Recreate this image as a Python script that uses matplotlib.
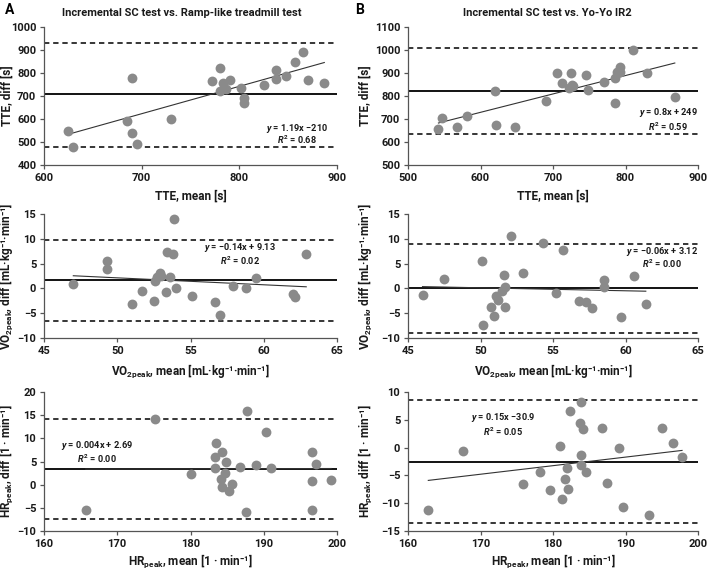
import numpy as np
import matplotlib
matplotlib.use("Agg")
import matplotlib.pyplot as plt

plt.rcParams['font.family'] = ['Roboto', 'DejaVu Sans']
plt.rcParams['font.weight'] = 'bold'
plt.rcParams['mathtext.fontset'] = 'custom'
plt.rcParams['mathtext.rm'] = 'Roboto:bold'
plt.rcParams['mathtext.it'] = 'Roboto:italic:bold'
plt.rcParams['mathtext.bf'] = 'Roboto:bold'

# ---- data ----
# A: SC vs ramp treadmill, TTE
tte_a_mean = [625, 630, 685, 690, 690, 695, 730, 772, 780, 780, 783, 786, 790,
              802, 805, 805, 825, 838, 838, 848, 857, 865, 870, 887]
tte_a_diff = [550, 480, 590, 540, 780, 490, 600, 765, 820, 720, 755, 730, 770,
              735, 690, 670, 750, 815, 775, 785, 848, 890, 770, 755]
# B: SC vs Yo-Yo IR2, TTE
tte_b_mean = [542, 547, 567, 582, 620, 622, 648, 690, 705, 712, 725, 722, 726,
              728, 745, 748, 770, 785, 785, 788, 792, 793, 810, 830, 868]
tte_b_diff = [655, 705, 665, 715, 820, 675, 665, 780, 900, 855, 900, 835, 850,
              845, 890, 825, 860, 770, 880, 905, 925, 905, 1000, 900, 795]
# C: VO2peak, SC vs ramp
vo_c_mean = [47.0, 49.3, 49.3, 51.0, 51.7, 52.5, 52.6, 52.7, 52.9, 53.0, 53.3,
             53.4, 53.6, 53.8, 53.9, 54.0, 55.1, 56.7, 57.0, 57.9, 58.8, 59.5,
             62.0, 62.1, 62.9]
vo_c_diff = [0.8, 5.5, 3.9, -3.1, -0.6, -2.5, 1.4, 2.2, 3.1, 2.5, -0.7,
             7.3, 2.3, 7.0, 13.9, 0.0, -1.5, -2.7, -5.4, 0.4, 0.0, 2.1,
             -1.2, -1.8, 6.9]
# D: VO2peak, SC vs Yo-Yo
vo_d_mean = [46.0, 47.5, 50.1, 50.2, 50.7, 50.9, 51.1, 51.2, 51.5, 51.6, 51.7,
             51.7, 52.1, 52.9, 54.3, 55.2, 55.7, 56.8, 57.3, 57.7, 58.5, 58.5,
             59.7, 60.6, 61.4]
vo_d_diff = [-1.3, 1.9, 5.5, -7.4, -3.7, -5.6, -1.6, -2.4, -0.6, 2.8, 0.3,
             -3.8, 10.5, 3.1, 9.1, -1.0, 7.8, -2.5, -2.8, -4.0, 1.7, 0.3,
             -5.8, 2.5, -3.1]
# E: HRpeak, SC vs ramp
hr_e_mean = [165.7, 175.2, 180.1, 183.3, 183.4, 183.5, 184.2, 184.3, 184.3,
             184.7, 184.9, 185.2, 185.7, 186.8, 187.6, 187.7, 188.9, 190.3,
             191.0, 196.6, 196.6, 196.6, 197.2, 199.2]
hr_e_diff = [-5.5, 14.2, 2.4, 3.6, 6.0, 9.0, 1.3, -0.4, 7.1,
             2.6, 4.8, -1.4, 0.2, 3.8, -6.0, 15.9, 4.3, 11.4,
             3.7, 7.1, 0.8, -5.4, 4.4, 1.0]
# F: HRpeak, SC vs Yo-Yo
hr_f_mean = [162.8, 167.6, 175.8, 178.2, 179.6, 180.9, 181.3, 181.7, 181.9,
             182.0, 182.3, 183.7, 183.8, 183.9, 183.9, 184.2, 184.6, 186.7,
             187.5, 189.1, 189.7, 193.3, 195.0, 196.5, 197.8]
hr_f_diff = [-11.3, -0.7, -6.5, -4.4, -7.6, 0.3, -9.3, -5.7, -3.6,
             -7.4, 6.5, 4.5, -1.3, -3.1, 8.2, 3.4, -4.4, 3.5,
             -6.3, 0.0, -10.6, -12.2, 3.6, 0.8, -1.7]

# bias and limits of agreement (mean, upper, lower)
bias = [(707, 930, 480), (822, 1007, 635), (1.6, 9.8, -6.5),
        (0.0, 9.0, -9.0), (3.3, 14.2, -7.5), (-2.6, 8.5, -13.6)]
# regression lines as drawn (slope, intercept)
trend = [(1.19, -210), (0.8, 249), (-0.14, 9.13),
         (-0.06, 3.12), (0.004, 2.69), (0.154, -30.97)]
eq_text = [r"$y$ = 1.19x −210", r"$y$ = 0.8x + 249", r"$y$ = −0.14x + 9.13",
           r"$y$ = −0.06x + 3.12", r"$y$ = 0.004x + 2.69", r"$y$ = 0.15x −30.9"]
r2_text = [r"$R^2$ = 0.68", r"$R^2$ = 0.59", r"$R^2$ = 0.02",
           r"$R^2$ = 0.00", r"$R^2$ = 0.00", r"$R^2$ = 0.05"]

vo_unit = "mL·kg⁻¹·min⁻¹"
hr_unit = "1 · min⁻¹"
xlabels = ["TTE, mean [s]", "TTE, mean [s]",
           r"VO$_{\mathrm{2peak}}$, mean [" + vo_unit + "]",
           r"VO$_{\mathrm{2peak}}$, mean [" + vo_unit + "]",
           r"HR$_{\mathrm{peak}}$, mean [" + hr_unit + "]",
           r"HR$_{\mathrm{peak}}$, mean [" + hr_unit + "]"]
ylabels = ["TTE, diff [s]", "TTE, diff [s]",
           r"VO$_{\mathrm{2peak}}$, diff [" + vo_unit + "]",
           r"VO$_{\mathrm{2peak}}$, diff [" + vo_unit + "]",
           r"HR$_{\mathrm{peak}}$, diff [" + hr_unit + "]",
           r"HR$_{\mathrm{peak}}$, diff [" + hr_unit + "]"]

xs = [tte_a_mean, tte_b_mean, vo_c_mean, vo_d_mean, hr_e_mean, hr_f_mean]
ys = [tte_a_diff, tte_b_diff, vo_c_diff, vo_d_diff, hr_e_diff, hr_f_diff]
xlims = [(600, 900), (500, 900), (45, 65), (45, 65), (160, 200), (160, 200)]
xsteps = [100, 100, 5, 5, 10, 10]
ylims = [(400, 1000), (500, 1100), (-10, 15), (-10, 15), (-10, 20), (-15, 10)]
ysteps = [100, 100, 5, 5, 5, 5]
eq_pos = [(0.863, 0.268, 0.181), (0.897, 0.377, 0.275), (0.669, 0.726, 0.62),
          (0.876, 0.694, 0.597), (0.181, 0.615, 0.52), (0.328, 0.815, 0.715)]

fig = plt.figure(figsize=(7.09, 5.70), dpi=100)
W, H = 709, 570
lefts = [44, 408]
rights = [337, 698]
ylab_x = [7, 365]
rows = [(27, 165), (214, 338), (392, 531)]
xlab_y = [196, 372, 561]

dark = '#1a1a1a'
for i in range(6):
    col, row = i % 2, i // 2
    x0, x1 = lefts[col], rights[col]
    top, bot = rows[row]
    ax = fig.add_axes([x0 / W, 1 - bot / H, (x1 - x0) / W, (bot - top) / H])
    ax.scatter(xs[i], ys[i], s=50, color='#8a8a8a', zorder=3, linewidths=0)
    m, up, lo = bias[i]
    ax.axhline(m, color='black', lw=1.3, zorder=2)
    ax.axhline(up, color='black', lw=1.1, ls=(0, (3.5, 2.5)), zorder=2)
    ax.axhline(lo, color='black', lw=1.1, ls=(0, (3.5, 2.5)), zorder=2)
    xx = np.array([min(xs[i]), max(xs[i])])
    k, b = trend[i]
    ax.plot(xx, k * xx + b, color='#333333', lw=0.8, zorder=2)
    ax.set_xlim(*xlims[i])
    ax.set_ylim(*ylims[i])
    ax.set_xticks(np.arange(xlims[i][0], xlims[i][1] + 0.1, xsteps[i]))
    ax.set_yticks(np.arange(ylims[i][0], ylims[i][1] + 0.1, ysteps[i]))
    for s in ['top', 'right']:
        ax.spines[s].set_visible(False)
    for s in ['left', 'bottom']:
        ax.spines[s].set_color('#555555')
        ax.spines[s].set_linewidth(0.9)
    ax.tick_params(length=3, width=0.9, color='#555555', labelsize=8,
                   labelcolor=dark, pad=2.5)
    for lab in ax.get_xticklabels() + ax.get_yticklabels():
        lab.set_fontweight('bold')
    ax.set_xlabel(xlabels[i], fontsize=8.5, color=dark, fontweight='bold')
    ax.set_ylabel(ylabels[i], fontsize=8.5, color=dark, fontweight='bold')
    ax.xaxis.set_label_coords(0.5, -(xlab_y[row] - bot) / (bot - top))
    ax.yaxis.set_label_coords((ylab_x[col] - x0) / (x1 - x0), 0.5)
    ax.xaxis.label.set_va('center')
    ax.yaxis.label.set_va('center')
    ex, ey, ry = eq_pos[i]
    ax.text(ex, ey, eq_text[i], transform=ax.transAxes, ha='center',
            va='center', fontsize=6.6, color=dark)
    ax.text(ex, ry, r2_text[i], transform=ax.transAxes, ha='center',
            va='center', fontsize=6.6, color=dark)

fig.text(5 / W, 1 - 10 / H, "A", fontsize=10, fontweight='bold', va='center')
fig.text(355 / W, 1 - 10 / H, "B", fontsize=10, fontweight='bold', va='center')
fig.text(182 / W, 1 - 13 / H, "Incremental SC test vs. Ramp-like treadmill test",
         fontsize=8, fontweight='bold', ha='center', va='center', color=dark)
fig.text(547 / W, 1 - 13 / H, "Incremental SC test vs. Yo-Yo IR2",
         fontsize=8, fontweight='bold', ha='center', va='center', color=dark)

fig.savefig("out.png", dpi=100)
